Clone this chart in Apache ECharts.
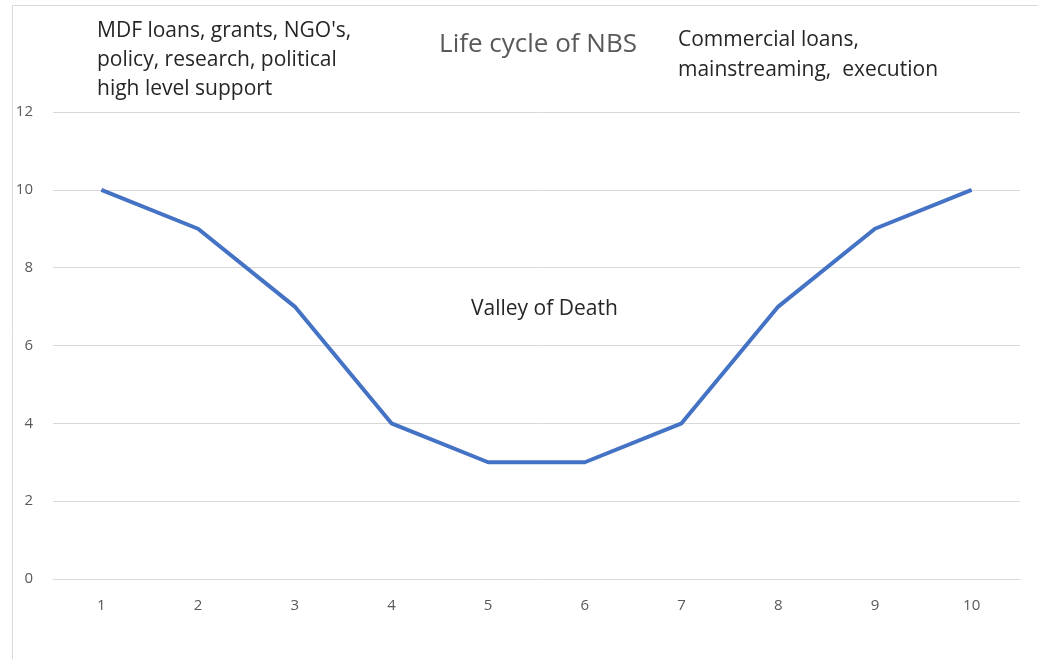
<!DOCTYPE html>
<html>
<head>
<meta charset="utf-8">
<title>Life cycle of NBS</title>
<script src="https://cdn.jsdelivr.net/npm/echarts@6/dist/echarts.min.js"></script>
<style>
  html, body { margin: 0; padding: 0; background: #fff; }
  #chart { width: 1038px; height: 659px; }
</style>
</head>
<body>
<div id="chart"></div>
<script>
var categories = ['1', '2', '3', '4', '5', '6', '7', '8', '9', '10'];
var values = [10, 9, 7, 4, 3, 3, 4, 7, 9, 10];
var leftNote = ["MDF loans, grants, NGO's,", 'policy, research, political', 'high level support'];
var rightNote = ['Commercial loans,', 'mainstreaming,  execution'];

var myChart = echarts.init(document.getElementById('chart'));
var font = '"Open Sans", "Noto Sans", sans-serif';
var option = {
    animation: false,
    textStyle: { fontFamily: font },
    title: {
        text: 'Life cycle of NBS',
        left: 533,
        top: 27,
        textAlign: 'center',
        textStyle: { fontSize: 26, fontWeight: 'normal', color: '#595959', fontFamily: font }
    },
    grid: { left: 53, right: 18, top: 112, bottom: 80 },
    xAxis: {
        type: 'category',
        data: categories,
        boundaryGap: true,
        axisLine: { lineStyle: { color: '#d9d9d9', width: 1 } },
        axisTick: { show: false },
        axisLabel: { color: '#595959', fontSize: 15, margin: 19 }
    },
    yAxis: {
        type: 'value',
        min: 0,
        max: 12,
        interval: 2,
        axisLine: { show: false },
        axisTick: { show: false },
        splitLine: { lineStyle: { color: '#d9d9d9', width: 1 } },
        axisLabel: { color: '#595959', fontSize: 15, margin: 20 }
    },
    series: [{
        type: 'line',
        data: values,
        symbol: 'none',
        lineStyle: { color: '#4472C4', width: 4 }
    }],
    graphic: [
        {
            type: 'rect',
            shape: { x: 12.5, y: 5.5, width: 1040, height: 670 },
            style: { fill: 'none', stroke: '#d9d9d9', lineWidth: 1 },
            silent: true
        },
        {
            type: 'text',
            left: 97,
            top: 17,
            style: { text: leftNote.join('\n'), font: '21px ' + font, fill: '#262626', lineHeight: 29 }
        },
        {
            type: 'text',
            left: 678,
            top: 25,
            style: { text: rightNote.join('\n'), font: '21px ' + font, fill: '#262626', lineHeight: 30 }
        },
        {
            type: 'text',
            left: 471,
            top: 299,
            style: { text: 'Valley of Death', font: '21px ' + font, fill: '#262626' }
        }
    ]
};
myChart.setOption(option);
</script>
</body>
</html>
